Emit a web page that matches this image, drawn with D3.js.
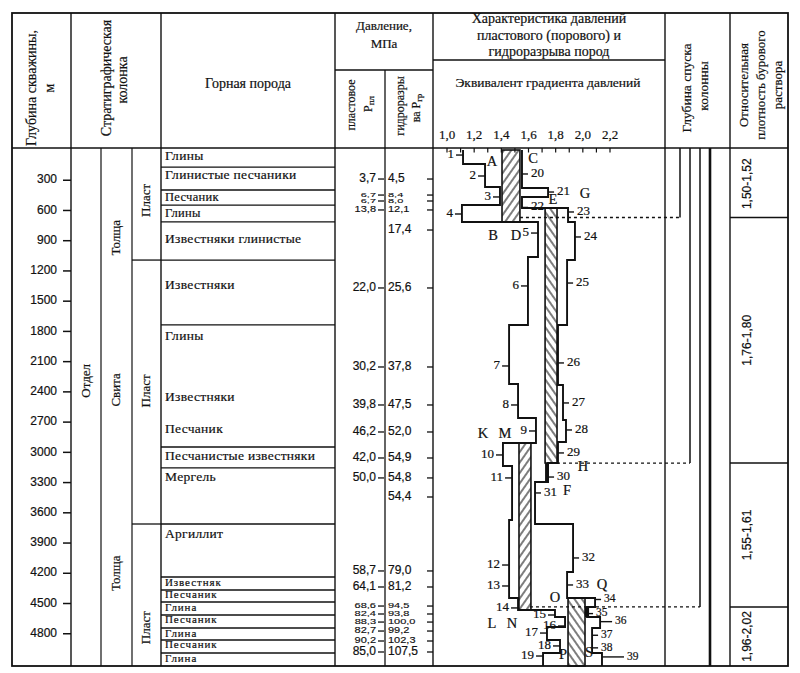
<!DOCTYPE html>
<html>
<head>
<meta charset="utf-8">
<script src="https://cdn.jsdelivr.net/npm/d3@7"></script>
<style>
body { margin: 0; background: #fff; }
text { font-family: "Liberation Serif", "DejaVu Serif", serif; fill: #111; stroke: #111; stroke-width: 0.2; }
.sans { font-family: "Liberation Sans", Arial, sans-serif; }
</style>
</head>
<body>
<svg id="chart" width="800" height="673"></svg>
<script>
// depth axis (m) and gradient axis
const depthTicks = [300, 600, 900, 1200, 1500, 1800, 2100, 2400, 2700, 3000, 3300, 3600, 3900, 4200, 4500, 4800];
const gradLabels = [1.0, 1.2, 1.4, 1.6, 1.8, 2.0, 2.2];
const gradMinor = d3.range(10, 23).map(d => d / 10);

// lithology
const rockBounds = [169, 397, 546, 714, 1092, 1736, 2947, 3155, 3711, 4237, 4366, 4485, 4614, 4743, 4862, 4991];
const rockNames = ["Глины", "Глинистые песчаники", "Песчаник", "Глины", "Известняки глинистые", "Известняки",
  "Глины", "Известняки", "Песчаник", "Песчанистые известняки", "Мергель", "Аргиллит",
  "Известняк", "Песчаник", "Глина", "Песчаник", "Глина", "Песчаник", "Глина"];
const rockLabelDepth = [69, 258, 478, 632, 893, 1349, 1855, 2461, 2778, 3046, 3254, 3820,
  4306, 4425, 4554, 4673, 4803, 4921, 5051];

// stratigraphy
const plastBounds = [1092, 3711];
const plastLabelDepth = [500, 2390, 4740];
const svitaNames = ["Толща", "Свита", "Толща"];
const svitaLabelDepth = [870, 2380, 4200];
const otdelLabelDepth = 2290;

// pressures, MPa
const presDepth = [288, 447, 506, 595, 794, 1369, 2153, 2530, 2798, 3056, 3254, 3443, 4177, 4336, 4525, 4604, 4684, 4773, 4872, 4981];
const presPl = [3.7, 6.7, 6.7, 13.8, null, 22.0, 30.2, 39.8, 46.2, 42.0, 50.0, null, 58.7, 64.1, 68.6, 82.4, 88.3, 82.7, 90.2, 85.0];
const presGr = [4.5, 8.4, 8.0, 12.1, 17.4, 25.6, 37.8, 47.5, 52.0, 54.9, 54.8, 54.4, 79.0, 81.2, 94.5, 93.8, 100.0, 99.2, 102.3, 107.5];

// equivalent gradient profiles (interval tops, values)
const poreTop = [0, 139, 367, 546, 714, 1062, 1736, 2322, 2659, 2907, 3135, 3671, 4445, 4564, 4634, 4733, 4862, 4991];
const poreGrad = [1.118, 1.280, 1.390, 1.110, 1.670, 1.596, 1.457, 1.523, 1.655, 1.412, 1.479, 1.457, 1.523, 1.795, 1.869, 1.736, 1.832, 1.707];
const fracTop = [0, 377, 466, 575, 714, 1091, 1736, 2332, 2679, 2897, 3106, 3294, 3711, 4187, 4445, 4534, 4634, 4743, 4991];
const fracGrad = [1.552, 1.744, 1.552, 1.891, 1.942, 1.884, 1.817, 1.854, 1.876, 1.817, 1.744, 1.648, 1.928, 1.884, 2.090, 2.031, 2.127, 2.068, 2.141];
const bottomDepth = 5120;

// mud windows (hatched) [g0, g1, top, bottom]
const hatchG0 = [1.405, 1.722, 1.530, 1.891];
const hatchG1 = [1.537, 1.810, 1.618, 2.016];
const hatchTop = [0, 575, 2907, 4445];
const hatchBot = [714, 3106, 4564, 5120];
const hatchDir = ["r", "l", "r", "l"];
const darkG0 = [1.722, 2.016], darkG1 = [1.744, 2.046], darkTop = [3106, 4534], darkBot = [3294, 4634];

// numbered points
const poreLabelDepth = [50, 258, 466, 635, 824, 1349, 2143, 2530, 2788, 3026, 3254, 4118, 4326, 4544, 4614, 4723, 4793, 4921, 5021];
const fracLabelDepth = [238, 417, 570, 615, 863, 1320, 2113, 2510, 2778, 3006, 3245, 3403, 4048, 4316, 4460, 4600, 4680, 4815, 4940, 5030];
const labelNudge = { 36: 6, 39: 16 };
const markNames = ["A", "B", "C", "D", "E", "F", "G", "H", "K", "L", "M", "N", "O", "P", "Q", "S"];
const markGrad = [1.331, 1.339, 1.633, 1.508, 1.780, 1.884, 2.016, 2.001, 1.265, 1.331, 1.427, 1.479, 1.795, 1.854, 2.141, 2.046];
const markDepth = [129, 863, 99, 863, 506, 3393, 447, 3155, 2828, 4713, 2828, 4713, 4455, 5021, 4326, 5001];

// casing shoes and mud density
const casingDepth = [670, 3106, 4534, 5120];
const casingFrom = [1.537, 1.810, 1.611];
const mudBounds = [0, 670, 3106, 4534, 5120];
const mudLabels = ["1,50-1,52", "1,76-1,80", "1,55-1,61", "1,96-2,02"];

const svg = d3.select("#chart");
const y = d3.scaleLinear().domain([0, bottomDepth]).range([150, 666]);
const gx = d3.scaleLinear().domain([1.0, 2.2]).range([447, 610]);
const comma = v => d3.format(".1f")(v).replace(".", ",");
const ink = "#111";

function hline(x1, x2, yy, w, dash) {
  const l = svg.append("line").attr("x1", x1).attr("x2", x2).attr("y1", yy).attr("y2", yy)
    .attr("stroke", ink).attr("stroke-width", w || 1.3);
  if (dash) l.attr("stroke-dasharray", dash);
}
function vline(xx, y1, y2, w) {
  svg.append("line").attr("x1", xx).attr("x2", xx).attr("y1", y1).attr("y2", y2)
    .attr("stroke", ink).attr("stroke-width", w || 1.3);
}
function vtext(xx, yc, str, size, cls) {
  return svg.append("text").attr("class", cls || null)
    .attr("transform", `translate(${xx},${yc}) rotate(-90)`)
    .attr("text-anchor", "middle").attr("dominant-baseline", "middle")
    .attr("font-size", size).text(str);
}
function htext(xx, yy, str, size, anchor, cls) {
  return svg.append("text").attr("class", cls || null).attr("x", xx).attr("y", yy)
    .attr("text-anchor", anchor || "middle").attr("dominant-baseline", "middle")
    .attr("font-size", size).text(str);
}
// squeezed text for crowded rows
function stext(xx, yy, str, size, sy, anchor) {
  return svg.append("text").attr("class", "sans")
    .attr("transform", `translate(${xx},${yy}) scale(1,${sy})`)
    .attr("text-anchor", anchor).attr("dominant-baseline", "middle")
    .attr("font-size", size).text(str);
}

// ---- frame and table grid
svg.append("rect").attr("x", 12).attr("y", 13).attr("width", 776).attr("height", 653)
  .attr("fill", "none").attr("stroke", ink).attr("stroke-width", 1.8);
hline(12, 788, 148, 1.5);
[71, 161, 335, 433, 665, 730].forEach(xx => vline(xx, 13, 666, 1.4));
vline(385, 70, 666, 1.3);
vline(101, 148, 666, 1.2);
vline(132, 148, 666, 1.2);
hline(335, 433, 70, 1.3);
hline(433, 665, 60, 1.3);

// ---- header text
vtext(33, 88, "Глубина скважины,", 14);
vtext(51, 88, "м", 14);
vtext(108, 78, "Стратиграфическая", 14);
vtext(124, 80, "колонка", 14);
htext(248, 85, "Горная порода", 14);
htext(384, 27, "Давление,", 13);
htext(384, 45, "МПа", 13);
vtext(352, 105, "пластовое", 12);
vtext(369, 104, "", 12).call(t => {
  t.append("tspan").text("P");
  t.append("tspan").attr("font-size", 9).attr("dy", 3).text("пл");
});
vtext(401, 106, "гидроразры", 12);
vtext(417, 108, "", 12).call(t => {
  t.append("tspan").text("ва P");
  t.append("tspan").attr("font-size", 9).attr("dy", 3).text("гр");
});
htext(549, 20, "Характеристика давлений", 14);
htext(549, 37, "пластового (порового) и", 14);
htext(549, 53, "гидроразрыва пород", 14);
htext(548, 84, "Эквивалент градиента давлений", 13.5);
vtext(688, 88, "Глубина спуска", 13.5);
vtext(705, 86, "колонны", 13.5);
vtext(745, 85, "Относительная", 13);
vtext(762, 85, "плотность бурового", 13);
vtext(779, 85, "раствора", 13);

// gradient axis
gradLabels.forEach(v => htext(gx(v), 136, d3.format(".1f")(v).replace(".", ","), 13));
gradMinor.forEach(v => vline(gx(v), 148, 152.5, 1.2));

// ---- depth axis
depthTicks.forEach(d => {
  htext(57, y(d), d, 12, "end", "sans");
  hline(63, 71, y(d), 1.5);
});

// ---- stratigraphic column
vtext(87, y(otdelLabelDepth), "Отдел", 13);
svitaNames.forEach((n, i) => vtext(117, y(svitaLabelDepth[i]), n, 13));
plastBounds.forEach(d => hline(132, 161, y(d), 1.3));
plastLabelDepth.forEach(d => vtext(147, y(d), "Пласт", 13));

// ---- lithology
rockBounds.forEach(d => hline(161, 335, y(d), 1.3));
rockNames.forEach((n, i) => {
  const fs = i >= 12 ? 11 : (i === 2 || i === 3 ? 12.5 : 13.5);
  htext(165, y(rockLabelDepth[i]), n, fs, "start").attr("letter-spacing", i >= 12 ? 0.9 : 0.3);
});

// ---- pressures
presDepth.forEach((d, i) => {
  const prev = i > 0 ? y(d) - y(presDepth[i - 1]) : 99;
  const next = i < presDepth.length - 1 ? y(presDepth[i + 1]) - y(d) : 99;
  const gap = Math.min(prev, next);
  if (presPl[i] !== null) {
    if (gap < 10) stext(376, y(d), comma(presPl[i]), 11, Math.min(0.75, gap / 11), "end");
    else htext(376, y(d), comma(presPl[i]), 12, "end", "sans");
    hline(378, 384, y(d), 1.3);
  }
  if (gap < 10) stext(388, y(d), comma(presGr[i]), 11, Math.min(0.75, gap / 11), "start");
  else htext(388, y(d), comma(presGr[i]), 12, "start", "sans");
  hline(427, 433, y(d), 1.3);
});

// ---- gradient profiles
const defs = svg.append("defs");
function hatch(id, angle) {
  const p = defs.append("pattern").attr("id", id).attr("patternUnits", "userSpaceOnUse")
    .attr("width", 6).attr("height", 6).attr("patternTransform", `rotate(${angle})`);
  p.append("line").attr("x1", 1).attr("y1", 0).attr("x2", 1).attr("y2", 6)
    .attr("stroke", ink).attr("stroke-width", 1.1);
}
hatch("hatchR", 35);
hatch("hatchL", -35);

hatchG0.forEach((g, i) => {
  svg.append("rect").attr("x", gx(g)).attr("y", y(hatchTop[i]))
    .attr("width", gx(hatchG1[i]) - gx(g)).attr("height", y(hatchBot[i]) - y(hatchTop[i]))
    .attr("fill", hatchDir[i] === "r" ? "url(#hatchR)" : "url(#hatchL)")
    .attr("stroke", ink).attr("stroke-width", 1.6);
});
darkG0.forEach((g, i) => {
  svg.append("rect").attr("x", gx(g)).attr("y", y(darkTop[i]))
    .attr("width", gx(darkG1[i]) - gx(g)).attr("height", y(darkBot[i]) - y(darkTop[i]))
    .attr("fill", ink);
});

function stepPoints(tops, vals) {
  const pts = [];
  tops.forEach((t, i) => {
    const b = i < tops.length - 1 ? tops[i + 1] : bottomDepth;
    pts.push([vals[i], t], [vals[i], b]);
  });
  return pts;
}
const valueAt = (tops, vals, d) => vals[d3.bisectRight(tops, d) - 1];
const line = d3.line().x(p => gx(p[0])).y(p => y(p[1]));
[[poreTop, poreGrad], [fracTop, fracGrad]].forEach(([t, v]) => {
  svg.append("path").attr("d", line(stepPoints(t, v)))
    .attr("fill", "none").attr("stroke", ink).attr("stroke-width", 1.9);
});

// casing shoes (dotted) and casing strings
const casingX = d3.scaleLinear().domain([0, 3]).range([680, 710]);
casingDepth.forEach((d, i) => {
  vline(casingX(i), 148, y(d), i === 3 ? 2.6 : 1.5);
  if (i < casingFrom.length) hline(gx(casingFrom[i]), casingX(i), y(d), 1.3, "3,3");
});

// numbered points
poreLabelDepth.forEach((d, i) => {
  const xx = gx(valueAt(poreTop, poreGrad, d));
  hline(xx - 7, xx, y(d), 1.4);
  htext(xx - 9, y(d), i + 1, 13, "end");
});
fracLabelDepth.forEach((d, i) => {
  const num = i + 20;
  const xx = gx(valueAt(fracTop, fracGrad, d));
  const nudge = labelNudge[num] || 0;
  hline(xx, xx + 6 + nudge, y(d), 1.4);
  htext(xx + 9 + nudge, y(d), num, num >= 34 ? 11.5 : 13, "start");
});
markNames.forEach((m, i) => htext(gx(markGrad[i]), y(markDepth[i]), m, 14.5));

// ---- mud density column
mudBounds.slice(1, -1).forEach(d => hline(730, 788, y(d), 1.4));
mudLabels.forEach((m, i) => vtext(748, (y(mudBounds[i]) + y(mudBounds[i + 1])) / 2, m, 12, "sans"));
</script>
</body>
</html>
